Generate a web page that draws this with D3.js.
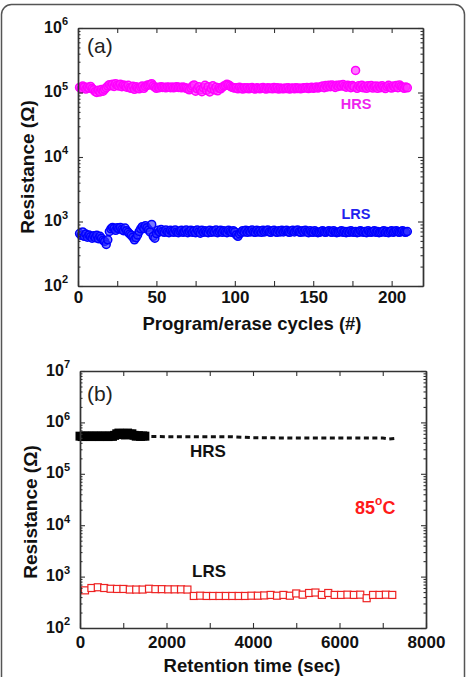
<!DOCTYPE html>
<html><head><meta charset="utf-8">
<script src="https://cdn.jsdelivr.net/npm/d3@7"></script>
<style>body{margin:0;background:#fff;} svg{display:block;font-family:"Liberation Sans",Arial,sans-serif;}</style>
</head><body><svg id="c" width="467" height="677"></svg>
<script>
// ---------- Panel (a): program/erase cycles ----------
const cycleTicks = [0,25,50,75,100,125,150,175,200];
const cycleLabelStep = 50;
// HRS resistance (kOhm) for cycles 1..210
const hrsCycles_kOhm = [
 120,114,126,122,113,121,116,124,115,110,
 103,100,108,102,111,105,112,119,126,132,
 127,134,124,137,129,126,134,123,131,126,
 121,129,118,116,125,112,123,117,114,122,
 126,116,124,129,131,133,137,127,121,116,
 121,119,123,120,121,118,122,121,119,122,
 118,121,123,120,121,118,122,119,117,114,
 110,118,126,131,105,114,123,110,103,119,
 129,108,123,102,115,127,110,121,106,118,
 114,121,126,129,134,131,126,121,119,117,
 118,114,121,116,113,119,115,118,114,117,
 120,115,113,118,116,114,117,120,115,113,
 118,115,117,114,120,115,118,113,117,115,
 114,117,115,118,113,116,117,114,118,115,
 117,114,116,119,117,120,115,119,121,116,
 119,122,117,121,123,126,119,128,122,129,
 123,131,125,120,129,124,131,126,133,125,
 121,130,124,119,128,123,220,116,127,121,
 129,118,125,116,127,120,128,117,124,126,
 116,125,119,127,121,115,124,129,120,117,
 126,121,128,119,131,124,120,116,122,118
];
// LRS resistance (Ohm) for cycles 1..210
const lrsCycles_Ohm = [
 650,610,690,590,640,570,620,580,550,600,
 560,610,540,590,550,510,490,440,520,700,
 770,810,780,730,800,770,810,750,720,790,
 720,680,640,610,570,520,560,620,700,770,
 830,780,860,800,740,690,900,590,550,650,
 730,690,750,700,680,740,690,670,730,700,
 680,740,690,670,710,730,680,700,740,670,
 700,730,680,720,670,740,690,660,730,680,
 720,690,670,730,680,720,690,740,670,700,
 730,680,720,690,670,730,700,680,720,690,
 620,590,640,680,720,690,730,680,720,690,
 740,690,680,730,690,720,680,730,690,720,
 740,690,680,720,730,690,680,720,690,730,
 690,720,730,690,680,720,730,690,720,740,
 690,680,720,690,730,690,670,720,690,680,
 720,690,670,680,700,720,690,680,700,720,
 690,680,720,690,670,680,700,720,680,700,
 670,700,680,720,690,680,700,670,680,720,
 700,680,700,670,720,690,680,700,720,680,
 700,670,680,700,720,680,700,670,700,720,
 680,700,720,690,680,700,720,690,680,700
];

// ---------- Panel (b): retention at 85 C ----------
const timeTicks = [0,1000,2000,3000,4000,5000,6000,7000,8000];
const timeLabelStep = 2000;
const hrsRetTimes = [0,50,100,150,200,250,300,350,400,450,500,550,600,650,700,750,800,850,900,950,1000,1050,1100,1150,1200,1250,1300,1350,1400,1450,1500];
const hrsRet_kOhm = [540,530,545,535,540,530,545,535,540,530,
                     545,535,540,530,545,535,560,600,620,580,
                     610,570,620,590,600,560,540,550,535,545,540];
const hrsDashTimes = [1650,2000,2500,3000,3500,4000,4500,5000,5500,6000,6500,7000,7150,7330];
const hrsDash_kOhm = [530,528,526,525,525,505,500,498,497,496,495,495,475,492];
const lrsRetTimes = [0,148,296,444,592,740,888,1036,1184,1332,1480,1628,1776,1924,2072,2220,2368,2516,2664,2812,2960,3108,3256,3404,3552,3700,3848,3996,4144,4292,4440,4588,4736,4884,5032,5180,5328,5476,5624,5772,5920,6068,6216,6364,6512,6660,6808,6956,7104];
const lrsRet_Ohm = [540,600,620,600,580,575,575,560,560,560,
                    580,570,570,565,565,565,560,420,425,420,
                    420,420,420,420,420,420,425,425,430,440,
                    425,440,425,470,445,480,490,440,480,440,
                    440,445,440,445,380,440,440,445,440];

const decadesA = [1e2,1e3,1e4,1e5,1e6];
const decadesB = [1e2,1e3,1e4,1e5,1e6,1e7];

const svg = d3.select("#c");
const FONT = '"Liberation Sans",Arial,sans-serif';

// outer rounded border
svg.append("rect").attr("x",1.5).attr("y",4.5).attr("width",463).attr("height",720)
  .attr("rx",10).attr("fill","none").attr("stroke","#555").attr("stroke-width",1.5);

function frame(x, y, xTicks, labelStep, decades, xPad) {
  const [x0,x1] = x.range(); const [y0,y1] = y.range();
  const minor = [];
  decades.slice(0,-1).forEach(d => { for (let k=2;k<10;k++) minor.push(d*k); });
  const g = svg.append("g").attr("color","#222");
  const add = (axis, tr) => g.append("g").attr("transform", tr).call(axis);
  const bottom = add(d3.axisBottom(x).tickValues(xTicks).tickSizeInner(-5).tickSizeOuter(0).tickPadding(xPad)
      .tickFormat(d => d % labelStep === 0 ? d : ""), `translate(0,${y0})`);
  add(d3.axisTop(x).tickValues(xTicks).tickSizeInner(-5).tickSizeOuter(0).tickFormat(""), `translate(0,${y1})`);
  const left = add(d3.axisLeft(y).tickValues(decades).tickSizeInner(-5).tickSizeOuter(0).tickPadding(10), `translate(${x0},0)`);
  add(d3.axisLeft(y).tickValues(minor).tickSizeInner(-2.5).tickSizeOuter(0).tickFormat(""), `translate(${x0},0)`);
  add(d3.axisRight(y).tickValues(decades).tickSizeInner(-5).tickSizeOuter(0).tickFormat(""), `translate(${x1},0)`);
  add(d3.axisRight(y).tickValues(minor).tickSizeInner(-2.5).tickSizeOuter(0).tickFormat(""), `translate(${x1},0)`);
  g.selectAll("path.domain").attr("stroke","#333").attr("stroke-width",1.4);
  g.selectAll(".tick line").attr("stroke","#333").attr("stroke-width",1.1);
  bottom.selectAll("text").attr("font-family",FONT).attr("font-size",17).attr("font-weight","bold").attr("fill","#111");
  left.selectAll(".tick text").each(function(d){
    const t = d3.select(this);
    t.text("").attr("font-family",FONT).attr("font-weight","bold").attr("fill","#111").attr("dy","0.4em");
    t.append("tspan").attr("font-size",16).text("10");
    t.append("tspan").attr("font-size",11).attr("dy","-0.65em").text(Math.round(Math.log10(d)));
  });
}

function text(str, x, y, opts={}) {
  const t = svg.append("text").attr("x",x).attr("y",y).text(str)
    .attr("font-family",FONT).attr("font-size",opts.size||18.5)
    .attr("font-weight",opts.weight||"bold").attr("fill",opts.fill||"#111")
    .attr("text-anchor",opts.anchor||"middle");
  if (opts.rotate) t.attr("transform",`rotate(-90,${x},${y})`);
  return t;
}

// ----- Panel (a) -----
const xA = d3.scaleLinear().domain([0,220]).range([78,423]);
const yA = d3.scaleLog().domain([1e2,1e6]).range([286,28]);
const ptsHrsA = hrsCycles_kOhm.map((v,i)=>({c:i+1, r:v*1000}));
const ptsLrsA = lrsCycles_Ohm.map((v,i)=>({c:i+1, r:v}));
svg.append("g").selectAll("circle").data(ptsHrsA).join("circle")
  .attr("cx",d=>xA(d.c)).attr("cy",d=>yA(d.r)).attr("r",4)
  .attr("fill","#ff33ff").attr("fill-opacity",0.65).attr("stroke","#ff00ff").attr("stroke-width",1.5);
svg.append("g").selectAll("circle").data(ptsLrsA).join("circle")
  .attr("cx",d=>xA(d.c)).attr("cy",d=>yA(d.r)).attr("r",4)
  .attr("fill","#3333ff").attr("fill-opacity",0.65).attr("stroke","#0000ff").attr("stroke-width",1.5);
frame(xA, yA, cycleTicks, cycleLabelStep, decadesA, 5);
text("(a)", 87, 53, {size:21, weight:"normal", anchor:"start", fill:"#222"});
text("HRS", 356, 109, {size:14.5, fill:"#ee22ee"});
text("LRS", 356, 219, {size:14.5, fill:"#2222ee"});
text("Program/erase cycles (#)", 252, 330, {size:18.5});
text("Resistance (\u03A9)", 33.5, 167, {size:19, rotate:true});

// ----- Panel (b) -----
const xB = d3.scaleLinear().domain([0,8000]).range([80,426]);
const yB = d3.scaleLog().domain([1e2,1e7]).range([628,371]);
const sq = 9;
svg.append("g").selectAll("rect").data(hrsRetTimes.map((t,i)=>({t, r:hrsRet_kOhm[i]*1000}))).join("rect")
  .attr("x",d=>xB(d.t)-sq/2).attr("y",d=>yB(d.r)-sq/2).attr("width",sq).attr("height",sq)
  .attr("fill","#000");
svg.append("path").datum(hrsDashTimes.map((t,i)=>({t, r:hrsDash_kOhm[i]*1000})))
  .attr("d", d3.line().x(d=>xB(d.t)).y(d=>yB(d.r)))
  .attr("fill","none").attr("stroke","#111").attr("stroke-width",3).attr("stroke-dasharray","5,3.5");
const sq2 = 7;
svg.append("g").selectAll("rect").data(lrsRetTimes.map((t,i)=>({t, r:lrsRet_Ohm[i]}))).join("rect")
  .attr("x",d=>xB(d.t)+1.5).attr("y",d=>yB(d.r)-sq2/2).attr("width",sq2).attr("height",sq2)
  .attr("fill","#fff").attr("stroke","#ee2222").attr("stroke-width",1.2);
frame(xB, yB, timeTicks, timeLabelStep, decadesB, 8);
text("(b)", 87, 401, {size:21, weight:"normal", anchor:"start", fill:"#222"});
text("HRS", 208, 457, {size:17});
text("LRS", 209, 577, {size:17});
const t85 = text("85", 355, 514, {size:18, fill:"#ff1a1a", anchor:"start"});
t85.append("tspan").attr("font-size",12).attr("dy","-0.75em").text("o");
t85.append("tspan").attr("dy","0.5em").attr("font-size",18).text("C");
text("Retention time (sec)", 252, 672, {size:18.5});
text("Resistance (\u03A9)", 36.5, 512, {size:19, rotate:true});
</script></body></html>
